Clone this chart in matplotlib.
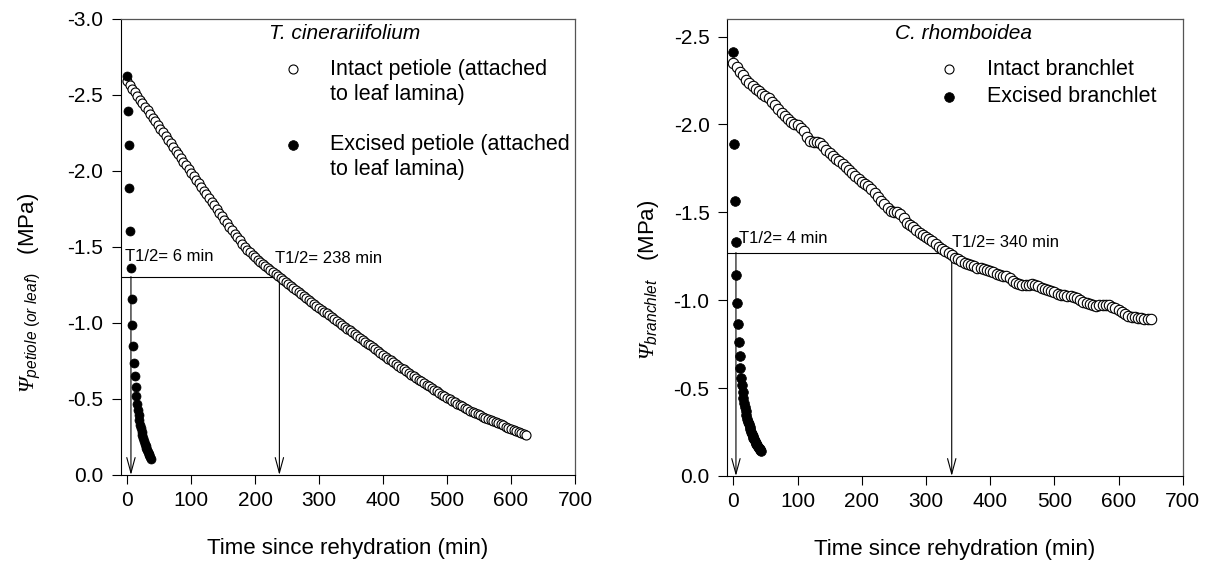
import numpy as np
import matplotlib
matplotlib.use("Agg")
import matplotlib.pyplot as plt
from matplotlib.ticker import FormatStrFormatter, MultipleLocator

plt.rcParams['font.family'] = ['Liberation Sans', 'DejaVu Sans']
plt.rcParams['axes.unicode_minus'] = False
plt.rcParams['mathtext.fontset'] = 'custom'
plt.rcParams['mathtext.rm'] = 'Liberation Sans'
plt.rcParams['mathtext.it'] = 'Liberation Sans:italic'
plt.rcParams['mathtext.sf'] = 'Liberation Serif:italic'

# ---- T. cinerariifolium : intact petiole (min, MPa) ----
t_intact_t = [
    0, 4, 8, 12, 16, 20, 24, 28, 32, 36,
    40, 44, 48, 52, 56, 60, 64, 68, 72, 76,
    80, 84, 88, 92, 96, 100, 104, 108, 112, 116,
    120, 124, 128, 132, 136, 140, 144, 148, 152, 156,
    160, 164, 168, 172, 176, 180, 184, 188, 192, 196,
    200, 204, 208, 212, 216, 220, 224, 228, 232, 236,
    240, 244, 248, 252, 256, 260, 264, 268, 272, 276,
    280, 284, 288, 292, 296, 300, 304, 308, 312, 316,
    320, 324, 328, 332, 336, 340, 344, 348, 352, 356,
    360, 364, 368, 372, 376, 380, 384, 388, 392, 396,
    400, 404, 408, 412, 416, 420, 424, 428, 432, 436,
    440, 444, 448, 452, 456, 460, 464, 468, 472, 476,
    480, 484, 488, 492, 496, 500, 504, 508, 512, 516,
    520, 524, 528, 532, 536, 540, 544, 548, 552, 556,
    560, 564, 568, 572, 576, 580, 584, 588, 592, 596,
    600, 604, 608, 612, 616, 620, 624]
t_intact_psi = [
    -2.590, -2.566, -2.542, -2.518, -2.494, -2.470, -2.446, -2.422, -2.398, -2.374,
    -2.350, -2.326, -2.302, -2.278, -2.254, -2.230, -2.206, -2.182, -2.158, -2.134,
    -2.110, -2.086, -2.062, -2.038, -2.014, -1.990, -1.966, -1.942, -1.918, -1.894,
    -1.870, -1.846, -1.822, -1.798, -1.774, -1.750, -1.726, -1.702, -1.678, -1.655,
    -1.632, -1.609, -1.586, -1.564, -1.543, -1.522, -1.502, -1.483, -1.465, -1.448,
    -1.432, -1.416, -1.401, -1.386, -1.372, -1.359, -1.346, -1.333, -1.320, -1.307,
    -1.294, -1.281, -1.268, -1.255, -1.242, -1.229, -1.216, -1.203, -1.190, -1.177,
    -1.164, -1.151, -1.138, -1.125, -1.113, -1.100, -1.088, -1.075, -1.063, -1.050,
    -1.038, -1.025, -1.013, -1.001, -0.988, -0.976, -0.963, -0.951, -0.938, -0.926,
    -0.914, -0.901, -0.889, -0.876, -0.864, -0.852, -0.839, -0.827, -0.815, -0.802,
    -0.790, -0.778, -0.766, -0.754, -0.742, -0.730, -0.718, -0.706, -0.694, -0.683,
    -0.671, -0.660, -0.649, -0.638, -0.627, -0.616, -0.605, -0.594, -0.583, -0.572,
    -0.561, -0.550, -0.539, -0.529, -0.518, -0.508, -0.498, -0.488, -0.478, -0.469,
    -0.460, -0.451, -0.442, -0.433, -0.424, -0.416, -0.408, -0.400, -0.392, -0.384,
    -0.377, -0.370, -0.362, -0.355, -0.348, -0.340, -0.333, -0.326, -0.318, -0.311,
    -0.304, -0.296, -0.289, -0.282, -0.274, -0.267, -0.260]

# ---- T. cinerariifolium : excised petiole ----
t_excised_t = [0, 1.2, 2.4, 3.6, 4.8, 6.0, 7.2, 8.4, 9.6, 10.8,
               12.0, 13.2, 14.4, 15.6, 16.8, 18.0, 19.2, 20.4, 21.6, 22.8,
               24.0, 25.2, 26.4, 27.6, 28.8, 30.0, 31.2, 32.4, 33.6, 34.8,
               36.0, 37.2]
t_excised_psi = [-2.625, -2.397, -2.171, -1.890, -1.605, -1.360, -1.156, -0.990, -0.851, -0.739,
                 -0.651, -0.581, -0.520, -0.470, -0.428, -0.392, -0.360, -0.332, -0.307, -0.284,
                 -0.262, -0.242, -0.224, -0.207, -0.192, -0.178, -0.165, -0.153, -0.141, -0.130,
                 -0.119, -0.105]

# ---- C. rhomboidea : intact branchlet ----
c_intact_t = [
    0, 5, 10, 15, 20, 25, 30, 35, 40, 45,
    50, 55, 60, 65, 70, 75, 80, 85, 90, 95,
    100, 105, 110, 115, 120, 125, 130, 135, 140, 145,
    150, 155, 160, 165, 170, 175, 180, 185, 190, 195,
    200, 205, 210, 215, 220, 225, 230, 235, 240, 245,
    250, 255, 260, 265, 270, 275, 280, 285, 290, 295,
    300, 305, 310, 315, 320, 325, 330, 335, 340, 345,
    350, 355, 360, 365, 370, 375, 380, 385, 390, 395,
    400, 405, 410, 415, 420, 425, 430, 435, 440, 445,
    450, 455, 460, 465, 470, 475, 480, 485, 490, 495,
    500, 505, 510, 515, 520, 525, 530, 535, 540, 545,
    550, 555, 560, 565, 570, 575, 580, 585, 590, 595,
    600, 605, 610, 615, 620, 625, 630, 635, 640, 645,
    650]
c_intact_psi = [
    -2.350, -2.325, -2.300, -2.280, -2.255, -2.235, -2.218, -2.203, -2.188, -2.172,
    -2.160, -2.148, -2.130, -2.113, -2.090, -2.068, -2.048, -2.030, -2.015, -2.004,
    -1.995, -1.980, -1.960, -1.930, -1.905, -1.898, -1.900, -1.892, -1.875, -1.855,
    -1.838, -1.822, -1.805, -1.790, -1.775, -1.760, -1.740, -1.722, -1.705, -1.688,
    -1.675, -1.660, -1.648, -1.634, -1.612, -1.588, -1.565, -1.545, -1.524, -1.508,
    -1.502, -1.500, -1.488, -1.465, -1.442, -1.428, -1.415, -1.400, -1.385, -1.372,
    -1.360, -1.350, -1.338, -1.322, -1.305, -1.290, -1.278, -1.266, -1.255, -1.243,
    -1.232, -1.222, -1.213, -1.205, -1.198, -1.192, -1.186, -1.181, -1.176, -1.172,
    -1.165, -1.158, -1.150, -1.143, -1.140, -1.136, -1.125, -1.110, -1.097, -1.090,
    -1.088, -1.087, -1.089, -1.090, -1.088, -1.080, -1.070, -1.062, -1.057, -1.052,
    -1.046, -1.038, -1.032, -1.028, -1.026, -1.023, -1.018, -1.010, -1.000, -0.992,
    -0.985, -0.978, -0.972, -0.968, -0.970, -0.972, -0.974, -0.970, -0.962, -0.955,
    -0.946, -0.935, -0.922, -0.912, -0.906, -0.903, -0.900, -0.898, -0.896, -0.895,
    -0.893]

# ---- C. rhomboidea : excised branchlet ----
c_excised_t = [0, 1.2, 2.4, 3.6, 4.8, 6.0, 7.2, 8.4, 9.6, 10.8,
               12.0, 13.2, 14.4, 15.6, 16.8, 18.0, 19.2, 20.4, 21.6, 22.8,
               24.0, 25.2, 26.4, 27.6, 28.8, 30.0, 31.2, 32.4, 33.6, 34.8,
               36.0, 37.2, 38.4, 39.6, 40.8, 42.0, 43.2]
c_excised_psi = [-2.415, -1.886, -1.562, -1.330, -1.142, -0.985, -0.865, -0.762, -0.682, -0.614,
                 -0.560, -0.515, -0.478, -0.445, -0.415, -0.390, -0.367, -0.346, -0.327, -0.310,
                 -0.294, -0.279, -0.265, -0.252, -0.240, -0.229, -0.218, -0.208, -0.199, -0.190,
                 -0.182, -0.174, -0.167, -0.160, -0.153, -0.147, -0.141]

# half-time markers (min) and half of initial psi (MPa)
half_t = {'T': (6, 238), 'C': (4, 340)}
half_psi = {'T': -1.305, 'C': -1.271}

fig = plt.figure(figsize=(12.12, 5.67), dpi=100)
ax1 = fig.add_axes([0.0996, 0.1623, 0.3748, 0.8042])
ax2 = fig.add_axes([0.5998, 0.1605, 0.3762, 0.8060])


def style_axis(ax, ymax):
    ax.set_xlim(-10, 700)
    ax.set_ylim(0, ymax)
    ax.xaxis.set_major_locator(MultipleLocator(100))
    ax.yaxis.set_major_locator(MultipleLocator(0.5))
    ax.yaxis.set_major_formatter(FormatStrFormatter('%.1f'))
    ax.tick_params(axis='both', direction='out', length=6.5, width=0.8,
                   labelsize=15, top=False, right=False)
    ax.tick_params(axis='y', pad=6)
    ax.tick_params(axis='x', pad=5)
    for s in ['left', 'bottom']:
        ax.spines[s].set_linewidth(0.8)
        ax.spines[s].set_color('black')
    for s in ['top', 'right']:
        ax.spines[s].set_linewidth(0.9)
        ax.spines[s].set_color('#555555')
    ax.set_xlabel('Time since rehydration (min)', fontsize=16)
    ax.xaxis.set_label_coords(0.5, -0.138)


def half_time_marks(ax, key):
    y = half_psi[key]
    t_fast, t_slow = half_t[key]
    ax.plot([-10, t_slow], [y, y], color='black', lw=0.8, zorder=1)
    for t in (t_fast, t_slow):
        ax.annotate('', xy=(t, 0), xytext=(t, y),
                    arrowprops=dict(arrowstyle='->, head_length=1.1, head_width=0.3',
                                    lw=0.8, color='black', shrinkA=0, shrinkB=0,
                                    mutation_scale=10),
                    zorder=1)


open_kw = dict(ls='none', marker='o', mfc='white', mec='black')
fill_kw = dict(ls='none', marker='o', mfc='black', mec='black')

# ---- left panel ----
style_axis(ax1, -3.0)
half_time_marks(ax1, 'T')
ax1.plot(t_intact_t, t_intact_psi, ms=6.5, mew=0.8, zorder=3, **open_kw)
ax1.plot(t_excised_t, t_excised_psi, ms=6.5, mew=0.5, zorder=4, **fill_kw)
ax1.text(-3, -1.436, 'T1/2= 6 min', fontsize=12, va='center', ha='left')
ax1.text(231, -1.426, 'T1/2= 238 min', fontsize=12, va='center', ha='left')
ax1.text(0.494, 0.969, 'T. cinerariifolium', transform=ax1.transAxes,
         fontsize=15, style='italic', ha='center', va='center')
ax1.plot([0.379], [0.890], transform=ax1.transAxes, ms=6.5, mew=0.8, **open_kw)
ax1.plot([0.379], [0.724], transform=ax1.transAxes, ms=7, mew=0.5, **fill_kw)
for yy, s in [(0.890, 'Intact petiole (attached'), (0.835, 'to leaf lamina)'),
              (0.724, 'Excised petiole (attached'), (0.671, 'to leaf lamina)')]:
    ax1.text(0.461, yy, s, transform=ax1.transAxes, fontsize=15.5,
             ha='left', va='center')
ax1.set_ylabel(r'$\mathsf{\Psi}_{\mathit{petiole\ (or\ leaf)}}$   (MPa)', fontsize=16)
ax1.yaxis.set_label_coords(-0.17, 0.40)

# ---- right panel ----
style_axis(ax2, -2.6)
half_time_marks(ax2, 'C')
ax2.plot(c_intact_t, c_intact_psi, ms=7.5, mew=0.8, zorder=3, **open_kw)
ax2.plot(c_excised_t, c_excised_psi, ms=7, mew=0.5, zorder=4, **fill_kw)
ax2.text(9, -1.354, 'T1/2= 4 min', fontsize=12, va='center', ha='left')
ax2.text(340, -1.328, 'T1/2= 340 min', fontsize=12, va='center', ha='left')
ax2.text(0.518, 0.969, 'C. rhomboidea', transform=ax2.transAxes,
         fontsize=15, style='italic', ha='center', va='center')
ax2.plot([0.4875], [0.890], transform=ax2.transAxes, ms=6.5, mew=0.8, **open_kw)
ax2.plot([0.4875], [0.830], transform=ax2.transAxes, ms=7, mew=0.5, **fill_kw)
ax2.text(0.5695, 0.890, 'Intact branchlet', transform=ax2.transAxes,
         fontsize=15.5, ha='left', va='center')
ax2.text(0.5695, 0.830, 'Excised branchlet', transform=ax2.transAxes,
         fontsize=15.5, ha='left', va='center')
ax2.set_ylabel(r'$\mathsf{\Psi}_{\mathit{branchlet}}$   (MPa)', fontsize=16)
ax2.yaxis.set_label_coords(-0.145, 0.43)

fig.savefig('out.png', dpi=100)
